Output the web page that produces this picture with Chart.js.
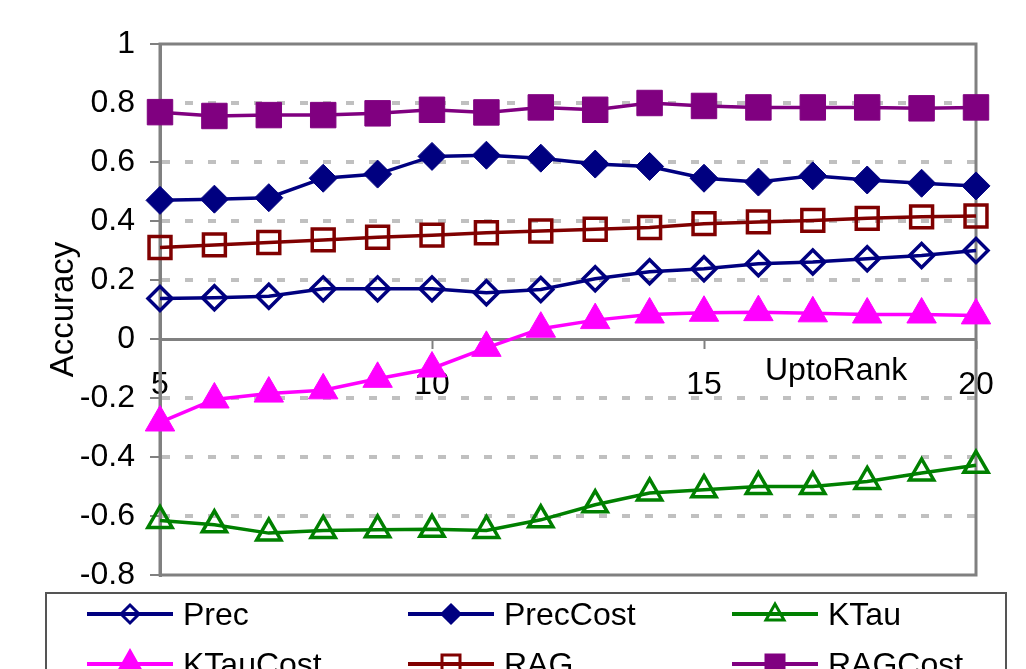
<!DOCTYPE html>
<html>
<head>
<meta charset="utf-8">
<script src="https://cdn.jsdelivr.net/npm/chart.js@4.4.0/dist/chart.umd.min.js"></script>
<style>
  html, body { margin: 0; padding: 0; background: #fff; overflow: hidden; }
  #wrap { position: relative; width: 1026px; height: 669px; }
  #chart { position: absolute; left: 0; top: 0; }
  #xtitle { position: absolute; left: 765px; top: 353px; font: 32px/1 "Liberation Sans", Arial, sans-serif; color: #000; }
  #legend { position: absolute; left: 45px; top: 592px; width: 962px; height: 130px;
            border: 2px solid #555; box-sizing: border-box; }
  .item { position: absolute; height: 40px; display: flex; align-items: center;
          font: 32px "Liberation Sans", Arial, sans-serif; color: #000; white-space: nowrap; }
  .item svg { margin-right: 8px; }
</style>
</head>
<body>
<div id="wrap">
  <canvas id="chart" width="1026" height="669"></canvas>
  <div id="xtitle">UptoRank</div>
  <div id="legend"></div>
</div>
<script>
// ranks on the x axis
const ranks = [5, 6, 7, 8, 9, 10, 11, 12, 13, 14, 15, 16, 17, 18, 19, 20];

// accuracy values per series
const prec     = [0.137, 0.140, 0.145, 0.170, 0.170, 0.170, 0.157, 0.168, 0.204, 0.228, 0.238, 0.255, 0.261, 0.272, 0.283, 0.300];
const precCost = [0.470, 0.474, 0.479, 0.545, 0.559, 0.619, 0.623, 0.613, 0.593, 0.585, 0.545, 0.532, 0.553, 0.539, 0.528, 0.519];
const kTau     = [-0.615, -0.630, -0.658, -0.649, -0.647, -0.645, -0.649, -0.613, -0.562, -0.522, -0.511, -0.500, -0.500, -0.483, -0.454, -0.428];
const kTauCost = [-0.283, -0.205, -0.185, -0.174, -0.135, -0.100, -0.030, 0.035, 0.064, 0.083, 0.089, 0.091, 0.087, 0.083, 0.083, 0.080];
const rag      = [0.310, 0.319, 0.327, 0.336, 0.345, 0.352, 0.360, 0.366, 0.372, 0.378, 0.391, 0.397, 0.402, 0.409, 0.414, 0.417];
const ragCost  = [0.769, 0.756, 0.759, 0.759, 0.765, 0.777, 0.768, 0.785, 0.777, 0.800, 0.790, 0.785, 0.785, 0.785, 0.782, 0.785];

const yTicks = [-0.8, -0.6, -0.4, -0.2, 0, 0.2, 0.4, 0.6, 0.8, 1];
const xTicks = [5, 10, 15, 20];

const FONT = '"Liberation Sans", Arial, sans-serif';
Chart.defaults.font.family = FONT;
Chart.defaults.color = '#000';

// series look: colour, marker, filled, marker radius
const series = [
  { label: 'Prec',     data: prec,     color: '#000080', style: 'rectRot',  filled: false, r: 12 },
  { label: 'PrecCost', data: precCost, color: '#000080', style: 'rectRot',  filled: true,  r: 14 },
  { label: 'KTau',     data: kTau,     color: '#008000', style: 'triangle', filled: false, r: 14 },
  { label: 'KTauCost', data: kTauCost, color: '#FF00FF', style: 'triangle', filled: true,  r: 17 },
  { label: 'RAG',      data: rag,      color: '#800000', style: 'rect',     filled: false, r: 15.5 },
  { label: 'RAGCost',  data: ragCost,  color: '#800080', style: 'rect',     filled: true,  r: 18 }
];

const datasets = series.map(s => ({
  label: s.label,
  data: s.data,
  borderColor: s.color,
  backgroundColor: s.color,
  borderWidth: 3.5,
  tension: 0,
  pointStyle: s.style,
  pointRadius: s.r,
  pointHoverRadius: s.r,
  pointBorderColor: s.color,
  pointBackgroundColor: s.filled ? s.color : 'rgba(0,0,0,0)',
  pointBorderWidth: s.filled ? 1 : 3.5,
  clip: false
}));

// gray frame round the plot area
const framePlugin = {
  id: 'frame',
  beforeDatasetsDraw(chart) {
    const { ctx, chartArea: a } = chart;
    ctx.save();
    ctx.strokeStyle = '#808080';
    ctx.lineWidth = 3;
    ctx.strokeRect(a.left, a.top, a.right - a.left, a.bottom - a.top);
    ctx.restore();
  }
};

const isEdgeTick = v => Math.abs(v) < 1e-6 || v > 0.99 || v < -0.79;

new Chart(document.getElementById('chart'), {
  type: 'line',
  data: { labels: ranks, datasets: datasets },
  plugins: [framePlugin],
  options: {
    responsive: false,
    animation: false,
    events: [],
    layout: { padding: { left: 0, top: 44, right: 50, bottom: 94 } },
    plugins: { legend: { display: false }, tooltip: { enabled: false } },
    scales: {
      x: {
        type: 'linear',
        position: { y: 0 },
        min: 5,
        max: 20,
        afterBuildTicks: scale => { scale.ticks = xTicks.map(v => ({ value: v })); },
        ticks: { color: '#000', font: { size: 32 }, padding: 19, maxRotation: 0, autoSkip: false },
        grid: { drawOnChartArea: false, tickLength: 8, tickColor: '#808080', tickWidth: 2 },
        border: { color: '#808080', width: 3 }
      },
      y: {
        min: -0.8,
        max: 1,
        afterFit: scale => { scale.width = 160; },
        afterBuildTicks: scale => { scale.ticks = yTicks.map(v => ({ value: v })); },
        ticks: {
          color: '#000',
          font: { size: 32 },
          padding: 15,
          callback: v => String(+Number(v).toFixed(1))
        },
        grid: {
          color: c => (c.tick && isEdgeTick(c.tick.value)) ? 'rgba(0,0,0,0)' : '#c0c0c0',
          lineWidth: 4,
          borderDash: [8, 15],
          tickLength: 10,
          tickColor: '#808080',
          tickWidth: 2
        },
        border: { color: '#808080', width: 3, dash: [8, 15] },
        title: {
          display: true,
          text: 'Accuracy',
          color: '#000',
          font: { size: 33, lineHeight: 1 },
          padding: { top: 47, bottom: 0 }
        }
      }
    }
  }
});

// legend: line + marker, then the name
function markerSvg(s) {
  const c = s.color, fill = s.filled ? c : 'none', cx = 43, cy = 20;
  let shape = '';
  if (s.style === 'rectRot') {
    const h = 9;
    shape = `<polygon points="${cx},${cy - h} ${cx + h},${cy} ${cx},${cy + h} ${cx - h},${cy}" fill="${fill}" stroke="${c}" stroke-width="3"/>`;
  } else if (s.style === 'triangle') {
    const h = s.filled ? 13 : 10;
    shape = `<polygon points="${cx},${cy - h} ${cx + h * 0.9},${cy + h * 0.6} ${cx - h * 0.9},${cy + h * 0.6}" fill="${fill}" stroke="${c}" stroke-width="3"/>`;
  } else {
    const h = 9;
    shape = `<rect x="${cx - h}" y="${cy - h}" width="${2 * h}" height="${2 * h}" fill="${fill}" stroke="${c}" stroke-width="3"/>`;
  }
  return `<svg width="88" height="40" viewBox="0 0 88 40"><line x1="0" y1="${cy}" x2="86" y2="${cy}" stroke="${c}" stroke-width="4"/>${shape}</svg>`;
}

const legendCols = [40, 361, 685];
const legendRows = [0, 50];
const legend = document.getElementById('legend');
series.forEach((s, i) => {
  const el = document.createElement('div');
  el.className = 'item';
  el.style.left = legendCols[i % 3] + 'px';
  el.style.top = legendRows[Math.floor(i / 3)] + 'px';
  el.innerHTML = markerSvg(s) + '<span>' + s.label + '</span>';
  legend.appendChild(el);
});
</script>
</body>
</html>
